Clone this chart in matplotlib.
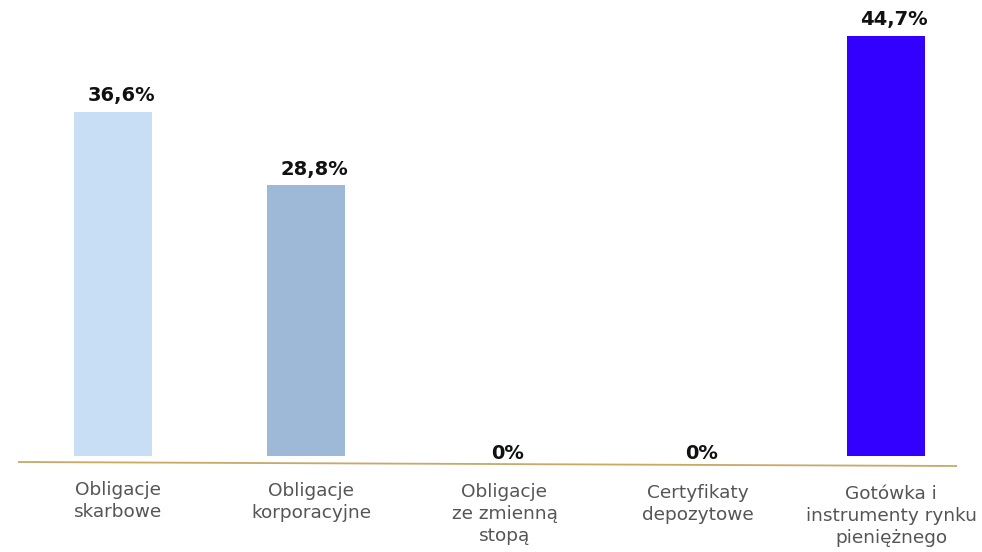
import matplotlib.pyplot as plt

# ---------- Data ----------
categories = [
    "Obligacje\nskarbowe",
    "Obligacje\nkorporacyjne",
    "Obligacje\nze zmienną\nstopą",
    "Certyfikaty\ndepozytowe",
    "Gotówka i\ninstrumenty rynku\npieniężnego",
]
values = [36.6, 28.8, 0.0, 0.0, 44.7]
value_labels = ["36,6%", "28,8%", "0%", "0%", "44,7%"]
bar_colors = ["#C8DEF5", "#9EB9D7", "#7F8FBF", "#5F6FDF", "#3300FF"]

W, H, DPI = 982, 552, 100

fig = plt.figure(figsize=(W / DPI, H / DPI), dpi=DPI)
ax = fig.add_axes([0, 0, 1, 1])

# pixel layout: bar centres 113 ... 886, baseline at y=456 from top, 9.4 px per %
px_per_cat = 193.25
px_per_pct = 9.40
base_px = H - 456
ax.set_xlim(-113 / px_per_cat, (W - 113) / px_per_cat)
ax.set_ylim(-base_px / px_per_pct, (H - base_px) / px_per_pct)
ax.axis("off")

x = list(range(len(categories)))
ax.bar(x, values, width=0.405, color=bar_colors, zorder=2)

# value labels
for xi, v, lab in zip(x, values, value_labels):
    dy = 4.7 if v > 0 else -5
    ax.annotate(lab, (xi, v), xytext=(6, dy), textcoords="offset points",
                ha="center", va="bottom", fontsize=14, fontweight="bold",
                color="#111111", family="DejaVu Sans")

# slightly tilted golden baseline
ax.plot([18 / W, 957 / W], [1 - 462 / H, 1 - 466 / H], transform=ax.transAxes,
        color="#C9A868", lw=1.3, solid_capstyle="butt", zorder=1)

# category labels (sit a few px right of bar centres in the original)
for xi, cat in zip(x, categories):
    ax.text(xi + 5 / px_per_cat, -(481 - 456 + xi * 1) / px_per_pct, cat,
            ha="center", va="top", fontsize=13.3, color="#555555",
            linespacing=1.3, family="DejaVu Sans")

fig.savefig("out.png", dpi=DPI)
